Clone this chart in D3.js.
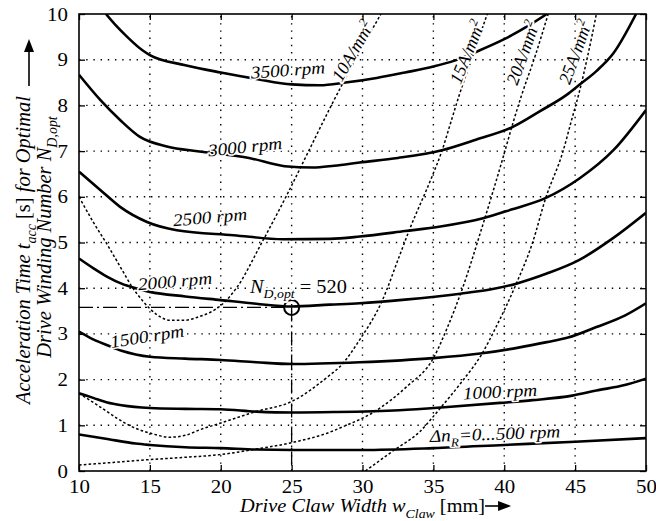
<!DOCTYPE html>
<html>
<head>
<meta charset="utf-8">
<script src="https://cdn.jsdelivr.net/npm/d3@7"></script>
<style>
body { margin: 0; background: #fff; }
</style>
</head>
<body>
<div id="chart"></div>
<script>
// acceleration time [s] over drive claw width [mm]
const xTicks = [10, 15, 20, 25, 30, 35, 40, 45, 50];
const yTicks = [0, 1, 2, 3, 4, 5, 6, 7, 8, 9, 10];

// solid lines: speed step of the rotor
const rpm500 = [[10,0.8],[12,0.7],[14,0.6],[15,0.57],[17.5,0.52],[20,0.5],[22.5,0.47],[25,0.46],[30,0.46],[35,0.5],[40,0.57],[45,0.64],[50,0.72]];
const rpm1000 = [[10,1.7],[11,1.6],[12,1.5],[13,1.44],[15,1.38],[17.5,1.36],[20,1.35],[22.5,1.3],[25,1.28],[28,1.29],[32.6,1.33],[36,1.4],[39.7,1.49],[42,1.55],[44.8,1.65],[46.5,1.76],[48.5,1.88],[50,2.02]];
const rpm1500 = [[10,3.05],[11,2.88],[12,2.75],[13,2.63],[14,2.55],[15,2.5],[17.5,2.46],[20,2.43],[22.5,2.38],[25,2.34],[29.8,2.38],[35,2.47],[38.3,2.57],[41,2.7],[43,2.82],[44.5,2.92],[46.5,3.15],[48.5,3.4],[50,3.67]];
const rpm2000 = [[10,4.65],[11,4.44],[12,4.25],[13,4.1],[14,4.0],[15,3.92],[17.5,3.82],[20,3.74],[22.5,3.66],[25,3.6],[27.7,3.64],[29.8,3.67],[33,3.75],[36.9,3.88],[39,3.97],[40.85,4.1],[43,4.32],[45.3,4.62],[47.7,5.1],[50,5.65]];
const rpm2500 = [[10,6.55],[11.5,6.15],[12.9,5.78],[14.8,5.45],[16.9,5.27],[20.9,5.16],[24.4,5.07],[27.7,5.08],[29.8,5.13],[33,5.25],[35.5,5.35],[38.5,5.53],[40.5,5.72],[42.9,5.97],[45.3,6.4],[47.7,7.02],[50,7.9]];
const rpm3000 = [[10,8.67],[11.5,8.12],[12.9,7.68],[14.3,7.31],[16.2,7.1],[18.5,6.99],[22,6.85],[24.5,6.67],[26.5,6.64],[28,6.68],[29.8,6.75],[32.5,6.85],[35.6,7.02],[38,7.25],[40.6,7.53],[42.5,7.87],[44.4,8.23],[45.3,8.45],[46.5,8.75],[47.7,9.14],[49.3,10]];
const rpm3500 = [[11.9,10],[12.6,9.75],[13.4,9.5],[14.5,9.2],[15,9.1],[17.5,8.88],[20,8.72],[22.5,8.58],[25,8.46],[27,8.44],[28.8,8.5],[31,8.6],[33,8.72],[35,8.85],[36.5,8.98],[38,9.17],[40,9.45],[41.8,9.76],[43,10]];

// dotted lines: current density
const j10 = [[10,6.0],[11,5.45],[12,4.95],[13,4.42],[13.7,4.05],[14.5,3.72],[15.5,3.42],[16.4,3.3],[17.5,3.3],[18.5,3.38],[19.3,3.48],[20,3.62],[21.1,4.0],[22.9,5.0],[24.6,6.0],[26.2,7.0],[27.8,8.0],[29.5,9.0],[31.3,10]];
const j15 = [[10,1.7],[11.5,1.4],[12.7,1.15],[13.8,0.96],[15,0.83],[16.4,0.74],[17.5,0.78],[18.5,0.9],[20,1.05],[22.5,1.3],[25,1.52],[27.7,2.1],[28.4,2.28],[29.8,2.87],[31.35,3.7],[32.6,4.7],[33.3,5.27],[34.9,6.44],[35.6,7.0],[36.2,7.6],[36.8,8.2],[37.8,9.1],[38.8,10]];
const j20 = [[10,0.13],[12.5,0.19],[15,0.25],[17.5,0.3],[20,0.36],[22.5,0.48],[25,0.62],[27.7,0.85],[28.4,0.94],[31,1.33],[33.1,1.84],[35,2.47],[36,3.15],[37,3.95],[38.5,5.4],[40,6.95],[40.6,7.6],[41.2,8.2],[42.2,9.1],[43.1,10]];
const j25 = [[30.2,0],[32.2,0.45],[34,0.85],[35.5,1.38],[37,1.95],[38.4,2.55],[39.5,3.2],[40.85,4.1],[42,5.0],[42.9,5.95],[44.15,7.0],[44.75,7.68],[45.3,8.3],[45.9,9.1],[46.5,10]];

// optimum: claw width 25 mm, N = 520
const optPoint = [25, 3.58];
const optWinding = 520;

// label texts, parts: r = roman, i = italic, s = subscript, p = superscript
const speedLabels = [
    [["3500 rpm","i"]],
    [["3000 rpm","i"]],
    [["2500 rpm","i"]],
    [["2000 rpm","i"]],
    [["1500 rpm","i"]],
    [["1000 rpm","i"]],
    [["\u0394n","i"],["R","s"],["=0...500 rpm","i"]]
];
const densityLabels = [
    [["10A/mm","i"],["2","p"]],
    [["15A/mm","i"],["2","p"]],
    [["20A/mm","i"],["2","p"]],
    [["25A/mm","i"],["2","p"]]
];

// where the labels sit (data coords) and their tilt
const speedLabelAt = [[24.74,8.78,-4],[21.71,7.1,-6],[19.24,5.56,-5],[16.77,4.16,-5],[14.8,2.95,-9],[39.7,1.74,-3],[39.35,0.82,-2]];
const densityLabelAt = [[29.3,9.19,-60],[37.37,9.17,-68],[41.3,9.15,-70],[45.0,9.17,-70]];

const FONT = "Liberation Serif";

var W = 656, H = 521;
var margin = {top: 14, right: 10, bottom: 50, left: 79},
    width = W - margin.left - margin.right,
    height = H - margin.top - margin.bottom;

var x = d3.scaleLinear().domain([10, 50]).range([0, width]);
var y = d3.scaleLinear().domain([0, 10]).range([height, 0]);

var root = d3.select("#chart").append("svg")
        .attr("width", W)
        .attr("height", H);

var svg = root.append("g")
        .attr("transform", `translate(${margin.left}, ${margin.top})`);

svg.append("clipPath").attr("id", "plot-clip")
    .append("rect").attr("width", width).attr("height", height);

// dotted grid
svg.append("g").selectAll("line")
    .data(xTicks.slice(1, -1)).enter().append("line")
        .attr("x1", d => x(d)).attr("x2", d => x(d))
        .attr("y1", height).attr("y2", 0)
        .attr("stroke", "#000").attr("stroke-width", 1.4)
        .attr("stroke-dasharray", "1.4,5.8");
svg.append("g").selectAll("line")
    .data(yTicks.slice(1, -1)).enter().append("line")
        .attr("y1", d => y(d)).attr("y2", d => y(d))
        .attr("x1", 0).attr("x2", width)
        .attr("stroke", "#000").attr("stroke-width", 1.4)
        .attr("stroke-dasharray", "1.4,5.8");

var line = d3.line()
    .x(d => x(d[0]))
    .y(d => y(d[1]))
    .curve(d3.curveMonotoneX);

var plot = svg.append("g").attr("clip-path", "url(#plot-clip)");

// speed curves
plot.selectAll("path.speed")
    .data([rpm500, rpm1000, rpm1500, rpm2000, rpm2500, rpm3000, rpm3500]).enter()
    .append("path")
        .attr("class", "speed")
        .attr("d", line)
        .attr("fill", "none")
        .attr("stroke", "#000")
        .attr("stroke-width", 2.6);

// text with sub/superscripts
function richText(parent, parts, size) {
    var t = parent.append("text")
        .attr("font-family", FONT)
        .attr("font-size", size)
        .attr("fill", "#000");
    var shift = 0;
    parts.forEach(p => {
        var ts = t.append("tspan").text(p[0])
            .attr("font-family", FONT)
            .attr("font-style", p[1] == "r" ? "normal" : "italic");
        var target = p[1] == "s" ? size * 0.3 : p[1] == "p" ? -size * 0.42 : 0;
        if (target != shift) ts.attr("dy", target - shift);
        shift = target;
        if (p[1] == "s" || p[1] == "p") ts.attr("font-size", size * 0.68);
    });
    return t;
}

function halo(t, w) {
    t.attr("stroke", "#fff").attr("stroke-width", w)
        .attr("stroke-linejoin", "round").attr("paint-order", "stroke");
}

// labels on the curves
speedLabels.forEach((parts, i) => {
    var a = speedLabelAt[i];
    var g = svg.append("g")
        .attr("transform", `translate(${x(a[0])}, ${y(a[1])}) rotate(${a[2]}) scale(1.1, 1)`);
    var t = richText(g, parts, 17.5).attr("text-anchor", "middle").attr("dy", "0.35em");
    halo(t, 3);
});

densityLabels.forEach((parts, i) => {
    var a = densityLabelAt[i];
    var g = svg.append("g")
        .attr("transform", `translate(${x(a[0])}, ${y(a[1])}) rotate(${a[2]})`);
    var t = richText(g, parts, 18).attr("text-anchor", "middle").attr("dy", "0.35em");
    halo(t, 4);
});

// current density curves
plot.selectAll("path.density")
    .data([j10, j15, j20, j25]).enter()
    .append("path")
        .attr("class", "density")
        .attr("d", line)
        .attr("fill", "none")
        .attr("stroke", "#000")
        .attr("stroke-width", 1.5)
        .attr("stroke-dasharray", "2.6,2.2");

// optimum marker with dash-dot guides
svg.append("line")
    .attr("x1", x(10)).attr("x2", x(optPoint[0]) - 7)
    .attr("y1", y(optPoint[1])).attr("y2", y(optPoint[1]))
    .attr("stroke", "#000").attr("stroke-width", 1.3)
    .attr("stroke-dasharray", "14,4,2,4");
svg.append("line")
    .attr("x1", x(optPoint[0])).attr("x2", x(optPoint[0]))
    .attr("y1", y(optPoint[1])).attr("y2", y(0))
    .attr("stroke", "#000").attr("stroke-width", 1.3)
    .attr("stroke-dasharray", "14,4,2,4");
svg.append("circle")
    .attr("cx", x(optPoint[0])).attr("cy", y(optPoint[1]))
    .attr("r", 7.5)
    .attr("fill", "none").attr("stroke", "#000").attr("stroke-width", 2);

var optLabel = svg.append("g")
    .attr("transform", `translate(${x(22.06)}, ${y(3.9)}) scale(1.1, 1)`);
halo(richText(optLabel, [["N","i"],["D,opt","s"],[" = " + optWinding,"r"]], 18.5), 4);

// frame and inward ticks
function tickText(g) {
    g.select(".domain").remove();
    g.attr("font-family", FONT);
    g.selectAll("text")
        .attr("font-family", FONT)
        .attr("font-size", 19)
        .attr("transform", "scale(1.1, 1)");
}
svg.append("g")
    .attr("transform", `translate(0, ${height})`)
    .call(d3.axisBottom(x).tickValues(xTicks).tickSizeInner(-6).tickSizeOuter(0).tickPadding(9))
    .call(tickText);
svg.append("g")
    .call(d3.axisLeft(y).tickValues(yTicks).tickSizeInner(-6).tickSizeOuter(0).tickPadding(10))
    .call(tickText);
svg.append("g")
    .call(d3.axisTop(x).tickValues(xTicks).tickSizeInner(-6).tickSizeOuter(0).tickFormat(""))
    .call(g => g.select(".domain").remove());
svg.append("g")
    .attr("transform", `translate(${width}, 0)`)
    .call(d3.axisRight(y).tickValues(yTicks).tickSizeInner(-6).tickSizeOuter(0).tickFormat(""))
    .call(g => g.select(".domain").remove());
svg.selectAll(".tick line").attr("stroke-width", 1.3);

svg.append("rect")
    .attr("width", width).attr("height", height)
    .attr("fill", "none").attr("stroke", "#000").attr("stroke-width", 1.6);

// axis titles
var xTitle = root.append("g").attr("transform", "translate(240, 512) scale(1.1, 1)");
var xt = richText(xTitle, [["Drive Claw Width w","i"],["Claw","s"],[" [mm]","r"]], 18.5);
var xEnd = 240 + xt.node().getComputedTextLength() * 1.1;
root.append("line")
    .attr("x1", xEnd).attr("x2", xEnd + 16)
    .attr("y1", 506).attr("y2", 506)
    .attr("stroke", "#000").attr("stroke-width", 1.6);
root.append("path")
    .attr("d", `M${xEnd + 26},506 L${xEnd + 13},501 L${xEnd + 13},511 Z`)
    .attr("fill", "#000");

var yTitle1 = root.append("g").attr("transform", "translate(30, 250) rotate(-90)");
richText(yTitle1, [["Acceleration Time t","i"],["acc","s"],[" [s] ","r"],["for Optimal","i"]], 20.5)
    .attr("text-anchor", "middle");
var yTitle2 = root.append("g").attr("transform", "translate(51, 237) rotate(-90)");
richText(yTitle2, [["Drive Winding Number N","i"],["D,opt","s"]], 20.5)
    .attr("text-anchor", "middle");

root.append("line")
    .attr("x1", 29).attr("x2", 29)
    .attr("y1", 86).attr("y2", 50)
    .attr("stroke", "#000").attr("stroke-width", 1.6);
root.append("path")
    .attr("d", "M29,39 L24,52 L34,52 Z")
    .attr("fill", "#000");
</script>
</body>
</html>
